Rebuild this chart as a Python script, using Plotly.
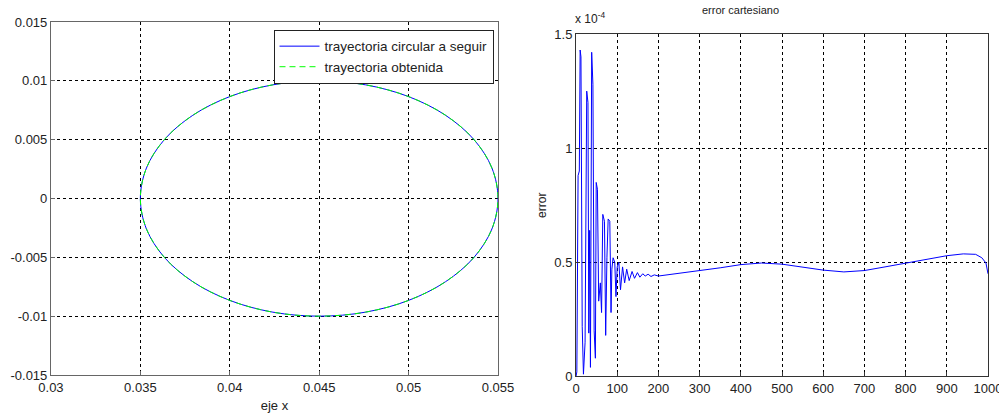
import plotly.graph_objects as go

# ---- left plot: circular trajectory ----
circ_x = [0.05500, 0.05466, 0.05366, 0.05207, 0.05000, 0.04759, 0.04500, 0.04241,
          0.04000, 0.03793, 0.03634, 0.03534, 0.03500, 0.03534, 0.03634, 0.03793,
          0.04000, 0.04241, 0.04500, 0.04759, 0.05000, 0.05207, 0.05366, 0.05466, 0.05500]
circ_y = [0.0, 0.00259, 0.00500, 0.00707, 0.00866, 0.00966, 0.01000, 0.00966,
          0.00866, 0.00707, 0.00500, 0.00259, 0.0, -0.00259, -0.00500, -0.00707,
          -0.00866, -0.00966, -0.01000, -0.00966, -0.00866, -0.00707, -0.00500, -0.00259, 0.0]
obt_x = circ_x
obt_y = circ_y

# ---- right plot: cartesian error (x 1e-4) ----
err_t = [0, 2, 5, 8, 10, 12, 15, 18, 22, 26, 29, 31, 33, 35, 38, 41, 44, 47, 49,
         52, 55, 59, 62, 65, 69, 72, 75, 78, 82, 85, 87, 90, 94, 97, 100, 104, 108,
         113, 118, 123, 129, 136, 142, 149, 155, 162, 168, 175, 182, 190, 200,
         250, 300, 350, 400, 450, 500, 550, 600, 650, 700, 750, 800, 850, 900,
         940, 970, 985, 995, 1000]
err_v = [0.0, 0.02, 0.88, 0.90, 1.43, 1.40, 0.22, 0.01, 0.15, 1.25, 1.20, 0.19,
         0.64, 0.04, 1.42, 1.28, 0.20, 0.08, 0.85, 0.82, 0.33, 0.41, 0.28, 0.71,
         0.68, 0.18, 0.52, 0.69, 0.68, 0.28, 0.47, 0.52, 0.50, 0.35, 0.48, 0.50,
         0.38, 0.48, 0.41, 0.47, 0.42, 0.46, 0.43, 0.455, 0.435, 0.45, 0.44, 0.448,
         0.438, 0.445, 0.44,
         0.452, 0.462, 0.476, 0.490, 0.497, 0.492, 0.480, 0.466, 0.458, 0.464,
         0.480, 0.497, 0.513, 0.529, 0.537, 0.535, 0.52, 0.497, 0.45]

x_left_ticks = [0.03, 0.035, 0.04, 0.045, 0.05, 0.055]
x_left_text = ["0.03", "0.035", "0.04", "0.045", "0.05", "0.055"]
y_left_ticks = [-0.015, -0.01, -0.005, 0, 0.005, 0.01, 0.015]
y_left_text = ["-0.015", "-0.01", "-0.005", "0", "0.005", "0.01", "0.015"]
x_right_ticks = [0, 100, 200, 300, 400, 500, 600, 700, 800, 900, 1000]
y_right_ticks = [0, 0.5, 1, 1.5]
y_right_text = ["0", "0.5", "1", "1.5"]

FONT = "Liberation Sans, Arial, sans-serif"

fig = go.Figure()
fig.add_trace(go.Scatter(x=circ_x, y=circ_y, mode="lines", line=dict(color="#0000ff", width=1, shape="spline"),
                         name="trayectoria circular a seguir", xaxis="x", yaxis="y"))
fig.add_trace(go.Scatter(x=obt_x, y=obt_y, mode="lines",
                         line=dict(color="#00ff00", width=1, shape="spline", dash="6px,4px"),
                         name="trayectoria obtenida", xaxis="x", yaxis="y"))
fig.add_trace(go.Scatter(x=err_t, y=err_v, mode="lines", line=dict(color="#0000ff", width=1),
                         showlegend=False, xaxis="x2", yaxis="y2"))

grid = dict(showgrid=True, gridcolor="black", gridwidth=1, griddash="3px,3px",
            showline=True, mirror=True, ticks="inside", ticklen=4, zeroline=False,
            automargin=False, ticklabeloverflow="allow",
            tickfont=dict(family=FONT, size=13, color="#222"))

fig.update_layout(
    width=999, height=415, margin=dict(l=0, r=0, t=0, b=0),
    paper_bgcolor="white", plot_bgcolor="white",
    font=dict(family=FONT, size=13, color="#222"),
    xaxis=dict(domain=[0.051, 0.4985], range=[0.03, 0.055], tickvals=x_left_ticks, ticktext=x_left_text,
               linecolor="#666", tickcolor="#666", anchor="y",
               title=dict(text="eje x", font=dict(size=13), standoff=7), **grid),
    yaxis=dict(domain=[0.0964, 0.947], range=[-0.015, 0.015], tickvals=y_left_ticks, ticktext=y_left_text,
               linecolor="#666", tickcolor="#666", anchor="x", **grid),
    xaxis2=dict(domain=[0.5766, 0.989], range=[0, 1000], tickvals=x_right_ticks,
                linecolor="#333", tickcolor="#333", anchor="y2", **grid),
    yaxis2=dict(domain=[0.0928, 0.918], range=[0, 1.5], tickvals=y_right_ticks, ticktext=y_right_text,
                linecolor="#333", tickcolor="#333", anchor="x2",
                title=dict(text="error", font=dict(size=12), standoff=5), **grid),
    legend=dict(x=0.494, y=0.928, xanchor="right", yanchor="top", bgcolor="white",
                bordercolor="#222", borderwidth=1, font=dict(family=FONT, size=13.5, color="#222"),
                tracegroupgap=0, itemwidth=40),
    showlegend=True,
    annotations=[
        dict(text="error cartesiano", x=0.782, y=1 - 10 / 415, xref="paper", yref="paper",
             showarrow=False, font=dict(family=FONT, size=11, color="#222"), yanchor="middle"),
        dict(text="x 10<sup>-4</sup>", x=0.574, y=1 - 18 / 415, xref="paper", yref="paper",
             xanchor="left", showarrow=False, font=dict(family=FONT, size=12, color="#222"), yanchor="middle"),
    ],
)

fig.write_html("out.html", config={"displayModeBar": False})

# remove the default page margin so the figure starts at the window's corner
with open("out.html", "r", encoding="utf-8") as f:
    html = f.read()
html = html.replace("<head>", "<head><style>html,body{margin:0;padding:0;overflow:hidden}</style>", 1)
with open("out.html", "w", encoding="utf-8") as f:
    f.write(html)
